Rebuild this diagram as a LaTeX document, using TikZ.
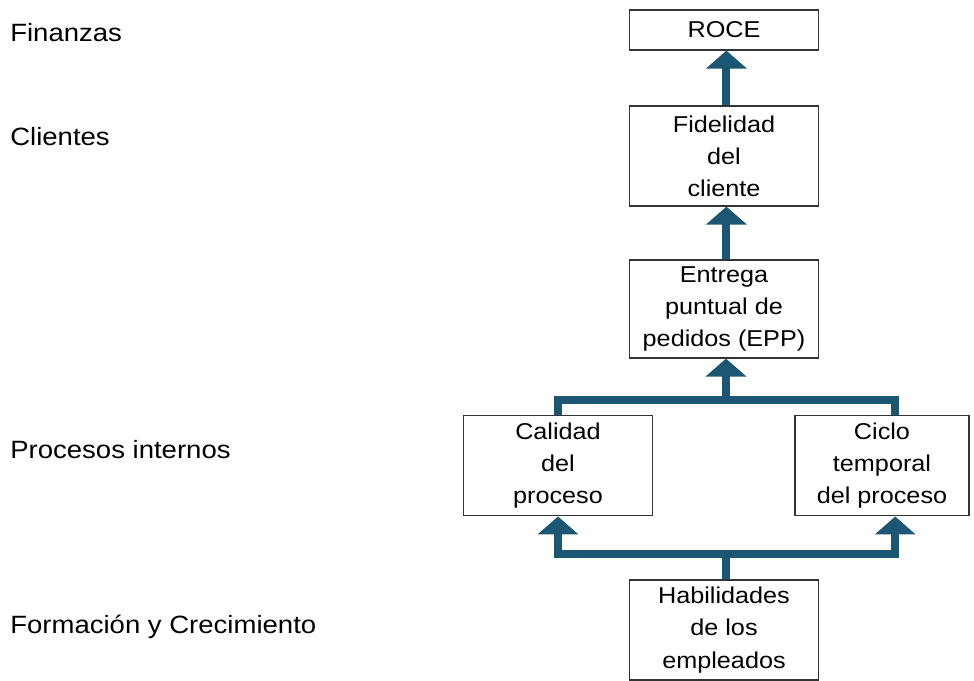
\documentclass[tikz,border=0pt]{standalone}
\usepackage{fontspec}
\setmainfont{Liberation Sans}[FakeStretch=1.1]
\usepackage{tikz}
\usetikzlibrary{shapes,arrows.meta}
\definecolor{flecha}{RGB}{27,86,114}
\tikzstyle{block} = [rectangle, draw=black!80, line width=0.8pt, fill=white, align=center, minimum width=4.72cm, inner sep=2pt, font=\fontsize{16.3}{22.8}\selectfont]
\tikzstyle{line} = [draw=flecha, line width=0.2cm, line join=miter, -{Triangle[width=1cm, length=0.45cm]}]
\tikzstyle{bus} = [draw=flecha, line width=0.2cm, line join=miter]
\tikzstyle{nivel} = [anchor=west, inner sep=0pt, font=\fontsize{17.8}{22.8}\selectfont]

\begin{document}
\begin{tikzpicture}[x=0.025cm, y=-0.025cm]
				    \useasboundingbox (0,0) rectangle (974,680);
				    % Place nodes
				    \node [nivel] (finanzas) at (10,33) {Finanzas};
				    \node [nivel] (clientes) at (10,137) {Clientes};
				    \node [nivel] (procesos) at (10,450) {Procesos internos};
				    \node [nivel] (formacion) at (10,627) {Formación y Crecimiento};
				    \node [block, minimum height=1cm] (roce) at (724,30) {ROCE};
				    \node [block, minimum height=2.5cm] (fidelidad) at (724,156) {Fidelidad\\del\\cliente};
				    \node [block, minimum height=2.45cm] (entrega) at (724,309) {Entrega\\puntual de\\pedidos (EPP)};
				    \node [block, minimum height=2.52cm] (calidad) at (558,465.5) {Calidad\\del\\proceso};
				    \node [block, minimum height=2.52cm, minimum width=4.35cm] (ciclo) at (882,465.5) {Ciclo\\temporal\\del proceso};
				    \node [block, minimum height=2.5cm] (habilidades) at (724,630) {Habilidades\\de los\\empleados};
				    \coordinate (busup) at (726,400);
				    \coordinate (buslow) at (726,554);
				    % Draw edges
				    \path [line] ([xshift=0.06cm]fidelidad.north) -- ([xshift=0.06cm]roce.south);
				    \path [line] ([xshift=0.06cm]entrega.north) -- ([xshift=0.06cm]fidelidad.south);
				    \path [bus] (calidad.north) |- (busup) -| ([xshift=0.33cm]ciclo.north);
				    \path [line] (busup) -- (busup |- entrega.south);
				    \path [bus] (habilidades.north -| buslow) -- (buslow);
				    \path [line] (buslow) -| (calidad.south);
				    \path [line] (buslow) -| ([xshift=0.33cm]ciclo.south);
				\end{tikzpicture}
\end{document}
